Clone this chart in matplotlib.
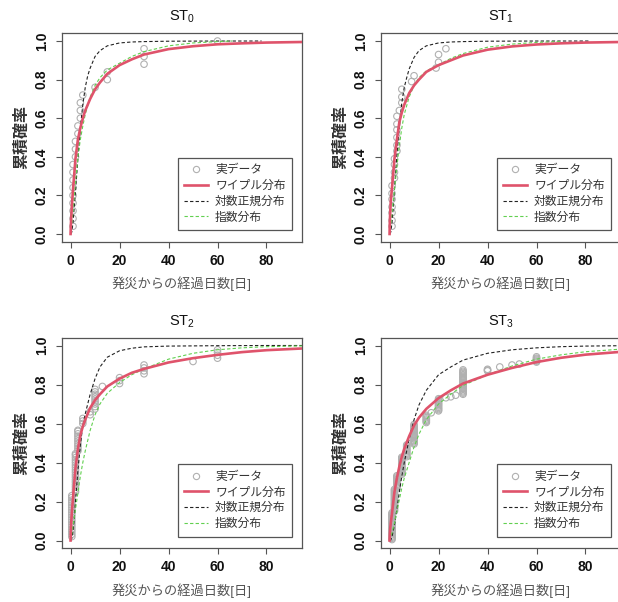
import matplotlib
matplotlib.use("Agg")
import matplotlib.pyplot as plt
from matplotlib.lines import Line2D

plt.rcParams['font.family'] = ['Liberation Sans', 'Noto Sans CJK JP']

# --- observed points (x = days, stacked y values per day) ---
st0_col_x = [1, 2, 3, 4, 5, 10, 15, 30, 60]
st0_col_y = [[0.04, 0.08, 0.12, 0.16, 0.20, 0.24, 0.28, 0.32, 0.36],
             [0.40, 0.44, 0.48], [0.52, 0.56], [0.60, 0.64, 0.68], [0.72],
             [0.76], [0.80, 0.84], [0.88, 0.92, 0.96], [1.0]]

st1_col_x = [1, 2, 3, 4, 5, 9, 10, 19, 20, 23]
st1_col_y = [[0.04, 0.07, 0.11, 0.14, 0.18, 0.21, 0.25],
             [0.29, 0.32, 0.36, 0.39],
             [0.43, 0.46, 0.50, 0.54, 0.57, 0.61], [0.64],
             [0.68, 0.71, 0.75], [0.79], [0.82], [0.86], [0.89, 0.93], [0.96]]

st2_col_x = [0.5, 2, 3, 5, 8, 10, 13, 20, 30, 50, 60]
st2_col_y = [[0.02, 0.032, 0.045, 0.057, 0.07, 0.082, 0.095, 0.107, 0.12, 0.132, 0.145, 0.157, 0.17, 0.182, 0.195, 0.207, 0.22, 0.23],
             [0.25, 0.262, 0.275, 0.287, 0.3, 0.312, 0.325, 0.337, 0.35, 0.362, 0.375, 0.387, 0.4, 0.412, 0.425, 0.437, 0.445],
             [0.46, 0.472, 0.485, 0.497, 0.51, 0.522, 0.535, 0.547, 0.56, 0.565],
             [0.6, 0.613, 0.626], [0.645, 0.66],
             [0.675, 0.687, 0.7, 0.712, 0.725, 0.737, 0.75, 0.762, 0.775],
             [0.79], [0.805, 0.82, 0.835], [0.855, 0.87, 0.885, 0.9],
             [0.918], [0.935, 0.95, 0.965, 0.978]]

st3_col_x = [1, 2, 3, 5, 7, 10, 15, 17, 20, 23, 25, 27, 30, 40, 45, 50, 53, 60]
st3_col_y = [[0.005, 0.011, 0.017, 0.023, 0.03, 0.036, 0.042, 0.048, 0.055, 0.061, 0.067, 0.073,
              0.08, 0.086, 0.092, 0.098, 0.105, 0.111, 0.117, 0.123, 0.13, 0.136, 0.142],
             [0.15, 0.156, 0.162, 0.168, 0.175, 0.181, 0.187, 0.193, 0.2, 0.206, 0.212, 0.218,
              0.225, 0.231, 0.237, 0.243, 0.25, 0.256, 0.262],
             [0.27, 0.276, 0.282, 0.288, 0.295, 0.301, 0.307, 0.313, 0.32, 0.326, 0.332],
             [0.34, 0.346, 0.352, 0.358, 0.365, 0.371, 0.377, 0.383, 0.39, 0.396, 0.402, 0.408,
              0.415, 0.421, 0.427],
             [0.43, 0.436, 0.442, 0.448, 0.455, 0.461, 0.467, 0.473, 0.48, 0.485, 0.49],
             [0.495, 0.501, 0.507, 0.513, 0.52, 0.526, 0.532, 0.538, 0.545, 0.551, 0.557, 0.563,
              0.57, 0.576, 0.582, 0.588, 0.595],
             [0.605, 0.611, 0.617, 0.623, 0.63, 0.636, 0.642], [0.655],
             [0.665, 0.671, 0.677, 0.683, 0.69, 0.696, 0.702, 0.708, 0.715, 0.721, 0.727],
             [0.732], [0.737], [0.745],
             [0.75, 0.756, 0.762, 0.768, 0.775, 0.781, 0.787, 0.793, 0.8, 0.806, 0.812, 0.818,
              0.825, 0.831, 0.837, 0.843, 0.85, 0.856, 0.862, 0.868, 0.875],
             [0.87, 0.874, 0.878], [0.89], [0.9], [0.905],
             [0.915, 0.92, 0.925, 0.93, 0.935, 0.942]]

# --- fitted curves ---
wb_x = [0, 0.1, 0.25, 0.5, 1, 2, 3, 4, 5, 6, 8, 10, 12, 15, 20, 25, 30, 40, 50, 60, 70, 80, 95]
wb0 = [0, 0.04, 0.08, 0.14, 0.23, 0.39, 0.49, 0.55, 0.6, 0.64, 0.7, 0.75, 0.785, 0.83, 0.875, 0.905, 0.93, 0.958, 0.973, 0.983, 0.988, 0.992, 0.995]
wb1 = [0, 0.06, 0.11, 0.17, 0.24, 0.39, 0.49, 0.58, 0.63, 0.67, 0.73, 0.77, 0.8, 0.84, 0.875, 0.9, 0.925, 0.955, 0.972, 0.982, 0.988, 0.992, 0.995]
wb2 = [0, 0.05, 0.09, 0.14, 0.22, 0.37, 0.47, 0.54, 0.585, 0.62, 0.68, 0.72, 0.75, 0.79, 0.83, 0.86, 0.88, 0.913, 0.935, 0.952, 0.966, 0.976, 0.985]
wb3 = [0, 0.03, 0.06, 0.09, 0.14, 0.25, 0.32, 0.38, 0.43, 0.47, 0.535, 0.59, 0.63, 0.675, 0.73, 0.77, 0.805, 0.85, 0.885, 0.915, 0.937, 0.953, 0.968]

ln0_x = [0, 0.5, 1, 1.5, 2, 3, 4, 5, 6, 7, 8, 10, 12, 15, 20, 25, 30, 40, 60, 78]
ln0 = [0, 0.01, 0.06, 0.14, 0.22, 0.39, 0.55, 0.67, 0.76, 0.82, 0.86, 0.92, 0.95, 0.975, 0.99, 0.995, 0.997, 0.999, 1.0, 1.0]
ln1_x = [0, 0.5, 1, 1.5, 2, 3, 4, 5, 6, 7, 8, 10, 12, 15, 20, 25, 30, 40, 60, 82]
ln1 = [0, 0.01, 0.06, 0.14, 0.23, 0.41, 0.56, 0.68, 0.76, 0.81, 0.855, 0.915, 0.95, 0.975, 0.99, 0.995, 0.997, 0.999, 1.0, 1.0]
ln2_x = [0, 0.5, 1, 1.5, 2, 3, 4, 5, 6, 7, 8, 10, 12, 15, 20, 25, 30, 40, 60, 80, 95]
ln2 = [0, 0.01, 0.05, 0.11, 0.2, 0.36, 0.49, 0.59, 0.65, 0.7, 0.75, 0.83, 0.89, 0.94, 0.973, 0.986, 0.993, 0.997, 0.999, 1.0, 1.0]
ln3_x = [0, 0.5, 1, 1.5, 2, 3, 4, 5, 6, 8, 10, 12, 15, 20, 25, 30, 40, 50, 60, 70, 80, 95]
ln3 = [0, 0.003, 0.02, 0.05, 0.08, 0.16, 0.25, 0.33, 0.4, 0.52, 0.62, 0.695, 0.77, 0.85, 0.89, 0.925, 0.96, 0.978, 0.988, 0.994, 0.997, 0.999]

ex0_x = [0, 0.5, 1, 2, 3, 4, 5, 6, 8, 10, 12, 15, 20, 25, 30, 40, 50, 60, 66]
ex0 = [0, 0.05, 0.12, 0.27, 0.4, 0.49, 0.56, 0.62, 0.71, 0.77, 0.81, 0.85, 0.885, 0.92, 0.945, 0.975, 0.99, 0.997, 1.0]
ex1_x = [0, 0.5, 1, 2, 3, 4, 5, 6, 8, 10, 12, 15, 20, 25, 30, 40, 50, 60, 70]
ex1 = [0, 0.05, 0.11, 0.23, 0.35, 0.46, 0.55, 0.62, 0.71, 0.77, 0.81, 0.845, 0.877, 0.91, 0.935, 0.968, 0.984, 0.993, 0.997]
ex2_x = [0, 0.5, 1, 2, 3, 4, 5, 6, 8, 10, 12, 15, 20, 25, 30, 40, 50, 60, 70, 80, 95]
ex2 = [0, 0.035, 0.075, 0.16, 0.245, 0.33, 0.4, 0.46, 0.565, 0.645, 0.7, 0.755, 0.81, 0.85, 0.88, 0.93, 0.96, 0.978, 0.988, 0.994, 0.998]
ex3_x = [0, 0.5, 1, 2, 3, 4, 5, 6, 8, 10, 12, 15, 20, 25, 30, 40, 50, 60, 70, 80, 95]
ex3 = [0, 0.02, 0.04, 0.09, 0.15, 0.21, 0.27, 0.32, 0.4, 0.48, 0.545, 0.62, 0.7, 0.75, 0.795, 0.85, 0.895, 0.93, 0.952, 0.968, 0.982]

panels = [
    ("0", st0_col_x, st0_col_y, wb0, ln0_x, ln0, ex0_x, ex0),
    ("1", st1_col_x, st1_col_y, wb1, ln1_x, ln1, ex1_x, ex1),
    ("2", st2_col_x, st2_col_y, wb2, ln2_x, ln2, ex2_x, ex2),
    ("3", st3_col_x, st3_col_y, wb3, ln3_x, ln3, ex3_x, ex3),
]

RED = "#DF536B"
GREEN = "#61D04F"
PTS = "#b0b0b0"
BOX = "#555555"

W, H = 618, 602
fig = plt.figure(figsize=(W / 100, H / 100), dpi=100)

# pixel boxes (left, top, width, height); right column runs past the edge
boxes = [(62, 33.3, 240, 208.4), (381, 33.3, 240, 208.4),
         (62, 337.7, 240, 210.6), (381, 337.7, 240, 210.6)]

for (l, t, w, h), (sub, cx, cy, wb, lnx, ln, exx, ex) in zip(boxes, panels):
    ax = fig.add_axes([l / W, 1 - (t + h) / H, w / W, h / H])

    px = [x for x, col in zip(cx, cy) for _ in col]
    py = [y for col in cy for y in col]
    ax.scatter(px, py, s=22, facecolors="none", edgecolors=PTS, linewidths=0.8, zorder=2)

    ax.plot(lnx, ln, color="#222222", lw=0.8, dashes=(3, 2), zorder=3)
    ax.plot(exx, ex, color=GREEN, lw=0.8, dashes=(3, 2), zorder=3)
    ax.plot(wb_x, wb, color=RED, lw=1.9, zorder=4)

    ax.set_xlim(-3.5, 94.5)
    ax.set_ylim(-0.04, 1.04)
    ax.set_xticks([0, 20, 40, 60, 80])
    ax.set_yticks([0.0, 0.2, 0.4, 0.6, 0.8, 1.0])
    ax.set_yticklabels(["0.0", "0.2", "0.4", "0.6", "0.8", "1.0"], rotation=90, va="center")
    for lab in ax.get_xticklabels() + ax.get_yticklabels():
        lab.set_fontweight("bold")
        lab.set_fontsize(10)
        lab.set_color("#111111")
    ax.tick_params(axis="both", direction="out", length=4.5, width=0.8, color=BOX)
    ax.tick_params(axis="x", pad=4)
    ax.tick_params(axis="y", pad=5)
    for sp in ax.spines.values():
        sp.set_color(BOX)
        sp.set_linewidth(0.9)

    ax.text(0.5, 1.077, r"$\mathregular{ST_%s}$" % sub, transform=ax.transAxes,
            ha="center", va="center", fontsize=10.5, color="#111111")
    ax.text(0.5, -0.2, "発災からの経過日数[日]", transform=ax.transAxes,
            ha="center", va="center", fontsize=9.5, color="#555555")
    ax.text(-0.167, 0.5, "累積確率", transform=ax.transAxes, rotation=90,
            ha="center", va="center", fontsize=11.5, fontweight="bold", color="#333333")

    handles = [
        Line2D([], [], ls="none", marker="o", markersize=4.5, markerfacecolor="none",
               markeredgecolor=PTS, markeredgewidth=0.8),
        Line2D([], [], color=RED, lw=1.9),
        Line2D([], [], color="#222222", lw=0.8, dashes=(3, 2)),
        Line2D([], [], color=GREEN, lw=0.8, dashes=(3, 2)),
    ]
    labels = ["実データ", "ワイプル分布", "対数正規分布", "指数分布"]
    leg = ax.legend(handles, labels, loc="lower right", bbox_to_anchor=(0.958, 0.056),
                    fontsize=8.5, frameon=True, fancybox=False, framealpha=1,
                    edgecolor=BOX, handlelength=2.0, handletextpad=0.6,
                    labelspacing=0.32, borderpad=0.55, borderaxespad=0)
    leg.get_frame().set_linewidth(0.9)
    for txt in leg.get_texts():
        txt.set_color("#333333")

fig.savefig("out.png", dpi=100)
